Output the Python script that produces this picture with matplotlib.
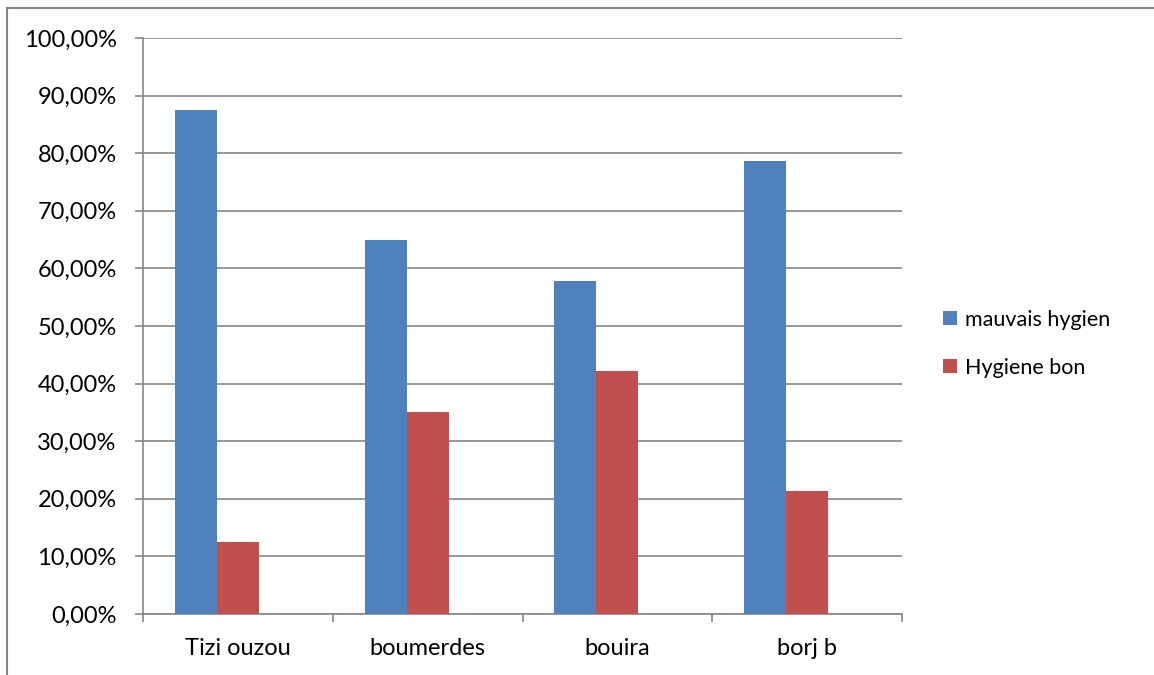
import matplotlib.pyplot as plt
import numpy as np
from matplotlib.lines import Line2D
from matplotlib.ticker import FuncFormatter

# donnees hygiene par wilaya
wilayas = ["Tizi ouzou", "boumerdes", "bouira", "borj b"]
mauvais_hygien = [87.5, 65.0, 57.89, 78.57]
hygiene_bon = [12.5, 35.0, 42.11, 21.43]

bleu = "#4F81BD"
rouge = "#C0504D"
gris = "#868686"

plt.rcParams["font.family"] = ["Lato", "DejaVu Sans"]
taille = 17

fig = plt.figure(figsize=(11.54, 6.75), dpi=100)
ax = fig.add_axes([143 / 1154, 1 - 614 / 675, (902 - 143) / 1154, (614 - 38) / 675])

x = np.arange(len(wilayas))
w = 0.221
ax.bar(x - w, mauvais_hygien, w, color=bleu, label="mauvais hygien", zorder=3)
ax.bar(x, hygiene_bon, w, color=rouge, label="Hygiene bon", zorder=3)

ax.set_xlim(-0.5, len(wilayas) - 0.5)
ax.set_ylim(0, 100)
ax.set_yticks(np.arange(0, 101, 10))
ax.yaxis.set_major_formatter(FuncFormatter(lambda v, p: f"{v:.2f}%".replace(".", ",")))
ax.yaxis.grid(True, color=gris, linewidth=1.2, zorder=0)

ax.set_xticks(x)
ax.set_xticklabels(wilayas)
ax.set_xticks(np.arange(-0.5, len(wilayas)), minor=True)
ax.tick_params(axis="x", which="major", length=0, pad=17, labelsize=taille)
ax.tick_params(axis="x", which="minor", length=6, width=1.2, color=gris)
ax.tick_params(axis="y", length=6, width=1.2, color=gris, pad=13, labelsize=taille)

for s in ["top", "right"]:
    ax.spines[s].set_visible(False)
for s in ["left", "bottom"]:
    ax.spines[s].set_color(gris)
    ax.spines[s].set_linewidth(1.2)

ax.legend(loc="center left", bbox_to_anchor=(1.029, 0.469), frameon=False,
          handlelength=0.65, handleheight=0.65, handletextpad=0.35,
          labelspacing=1.3, fontsize=15.5)

# cadre du graphique
fig.add_artist(Line2D([7 / 1154, 1], [1 - 8 / 675, 1 - 8 / 675], color=gris, lw=1.5))
fig.add_artist(Line2D([7 / 1154, 7 / 1154], [0, 1 - 8 / 675], color=gris, lw=1.5))

fig.savefig("out.png", dpi=100)
